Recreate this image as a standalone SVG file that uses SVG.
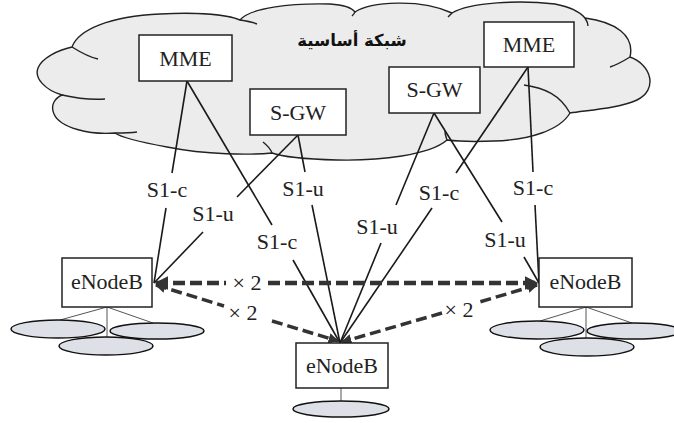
<svg xmlns="http://www.w3.org/2000/svg" width="674" height="423" viewBox="0 0 674 423">
<defs>
<style>
.box{fill:#fff;stroke:#222;stroke-width:1.5}
.t{font-family:'Liberation Serif','Times New Roman',serif;font-size:22px;fill:#222;text-anchor:middle}
.ln{stroke:#1a1a1a;stroke-width:1.6;fill:none}
.dh{stroke:#333;stroke-width:4.5;stroke-dasharray:12 5;fill:none}
.dd{stroke:#333;stroke-width:3.5;stroke-dasharray:11 5;fill:none}
.cell{fill:#dde0e6;stroke:#111;stroke-width:1.5}
.leg{stroke:#555;stroke-width:1}
.cl{fill:none;stroke:#222;stroke-width:1.4}
</style>
<marker id="arr" viewBox="0 0 10 10" refX="9" refY="5" markerWidth="3" markerHeight="3" orient="auto-start-reverse" markerUnits="strokeWidth">
<path d="M0,0 L10,5 L0,10 z" fill="#333"/>
</marker>
</defs>
<rect width="674" height="423" fill="#fff"/>

<g id="cloud">
<path d="M72,47 C78,30 110,16 160,14 C200,12 228,15 240,20 C250,8 290,3 330,4 C345,5 352,8 355,12 C370,2 420,-2 452,13 C470,2 520,0 555,4 C570,7 580,12 585,18 C615,22 635,35 630,57 C652,65 658,90 637,100 C620,108 590,110 570,113 C560,130 530,140 494,141 C470,142 455,141 447,140 C430,155 380,161 337,160 C300,159 280,156 272,153 C250,155 207,155 167,147 C140,142 122,138 115,133 C90,135 60,128 54,114 C50,105 55,98 62,95 C45,90 34,78 38,68 C42,58 58,50 72,47 Z" fill="#ececec" stroke="#222" stroke-width="1.4"/>
<path class="cl" d="M72,47 C80,52 88,57 98,59"/>
<path class="cl" d="M62,95 C75,98 90,100 105,99"/>
<path class="cl" d="M115,133 C122,133 130,133 137,132"/>
<path class="cl" d="M263,142 C268,146 271,150 272,153"/>
<path class="cl" d="M447,140 C446,137 445,135 445,131"/>
<path class="cl" d="M570,113 C560,95 545,88 524,85"/>
<path class="cl" d="M630,57 C622,62 616,65 610,67"/>
<path class="cl" d="M585,18 C587,21 588,23 588,26"/>
<path class="cl" d="M452,13 C450,15 449,16 448,17"/>
<path class="cl" d="M355,12 C354,14 353,15 352,16"/>
<path class="cl" d="M240,20 C247,21 252,22 257,24"/>
<text x="352" y="46" font-family="DejaVu Sans, sans-serif" font-size="16.5" font-weight="bold" fill="#111" text-anchor="middle" direction="rtl">شبكة أساسية</text>
</g>

<g id="connectors">
<line class="ln" x1="187" y1="81" x2="172" y2="173"/><line class="ln" x1="166" y1="208" x2="154" y2="283"/>
<line class="ln" x1="187" y1="81" x2="272" y2="225"/><line class="ln" x1="293" y1="260" x2="340" y2="343"/>
<line class="ln" x1="298" y1="135" x2="237" y2="197"/><line class="ln" x1="203" y1="232" x2="154" y2="283"/>
<line class="ln" x1="298" y1="135" x2="305" y2="172"/><line class="ln" x1="312" y1="205" x2="340" y2="343"/>
<line class="ln" x1="434" y1="113" x2="396" y2="205"/><line class="ln" x1="381" y1="243" x2="340" y2="343"/>
<line class="ln" x1="434" y1="113" x2="502" y2="222"/><line class="ln" x1="524" y1="257" x2="539" y2="283"/>
<line class="ln" x1="528" y1="67" x2="456" y2="173"/><line class="ln" x1="432" y1="208" x2="340" y2="343"/>
<line class="ln" x1="528" y1="67" x2="533" y2="172"/><line class="ln" x1="535" y1="205" x2="539" y2="283"/>
<text class="t" x="167" y="197">S1-c</text>
<text class="t" x="213" y="221">S1-u</text>
<text class="t" x="277" y="249">S1-c</text>
<text class="t" x="303" y="196">S1-u</text>
<text class="t" x="377" y="234">S1-u</text>
<text class="t" x="439" y="200">S1-c</text>
<text class="t" x="505" y="247">S1-u</text>
<text class="t" x="533" y="195">S1-c</text>

<line class="dh" x1="156" y1="283" x2="226" y2="283" marker-start="url(#arr)"/>
<line class="dh" x1="268" y1="283" x2="537" y2="283" marker-end="url(#arr)"/>
<line class="dd" x1="156" y1="285" x2="224" y2="306" marker-start="url(#arr)"/>
<line class="dd" x1="272" y1="321" x2="338" y2="341" marker-end="url(#arr)"/>
<line class="dd" x1="537" y1="285" x2="476" y2="303" marker-start="url(#arr)"/>
<line class="dd" x1="442" y1="313" x2="342" y2="342" marker-end="url(#arr)"/>
<text class="t" x="247" y="290">× 2</text>
<text class="t" x="243" y="320">× 2</text>
<text class="t" x="459" y="317">× 2</text>
</g>

<g id="mme-left"><rect class="box" x="139" y="35" width="93" height="46"/><text class="t" x="185.5" y="66">MME</text></g>
<g id="sgw-left"><rect class="box" x="250" y="89" width="96" height="46"/><text class="t" x="298" y="120">S-GW</text></g>
<g id="sgw-right"><rect class="box" x="389" y="67" width="91" height="46"/><text class="t" x="434.5" y="97">S-GW</text></g>
<g id="mme-right"><rect class="box" x="484" y="22" width="90" height="45"/><text class="t" x="529" y="52">MME</text></g>

<g id="enb-left">
<line class="leg" x1="107" y1="307" x2="60" y2="320"/><line class="leg" x1="107" y1="307" x2="153" y2="323"/><line class="leg" x1="107" y1="307" x2="107" y2="338"/>
<ellipse class="cell" cx="58" cy="329" rx="47" ry="9"/><ellipse class="cell" cx="157" cy="331" rx="47" ry="8"/><ellipse class="cell" cx="106" cy="346" rx="47" ry="9"/>
<rect class="box" x="62" y="258" width="90" height="49"/><text class="t" x="107" y="289">eNodeB</text>
</g>
<g id="enb-right">
<line class="leg" x1="586" y1="307" x2="540" y2="321"/><line class="leg" x1="586" y1="307" x2="632" y2="323"/><line class="leg" x1="586" y1="307" x2="586" y2="338"/>
<ellipse class="cell" cx="537" cy="330" rx="47" ry="9"/><ellipse class="cell" cx="634" cy="331" rx="47" ry="8"/><ellipse class="cell" cx="587" cy="347" rx="47" ry="9"/>
<rect class="box" x="539" y="258" width="93" height="49"/><text class="t" x="585.5" y="289">eNodeB</text>
</g>
<g id="enb-bottom">
<line class="leg" x1="341" y1="388" x2="341" y2="401"/>
<ellipse class="cell" cx="341" cy="409" rx="48" ry="8"/>
<rect class="box" x="296" y="343" width="92" height="45"/><text class="t" x="342" y="373">eNodeB</text>
</g>
</svg>
